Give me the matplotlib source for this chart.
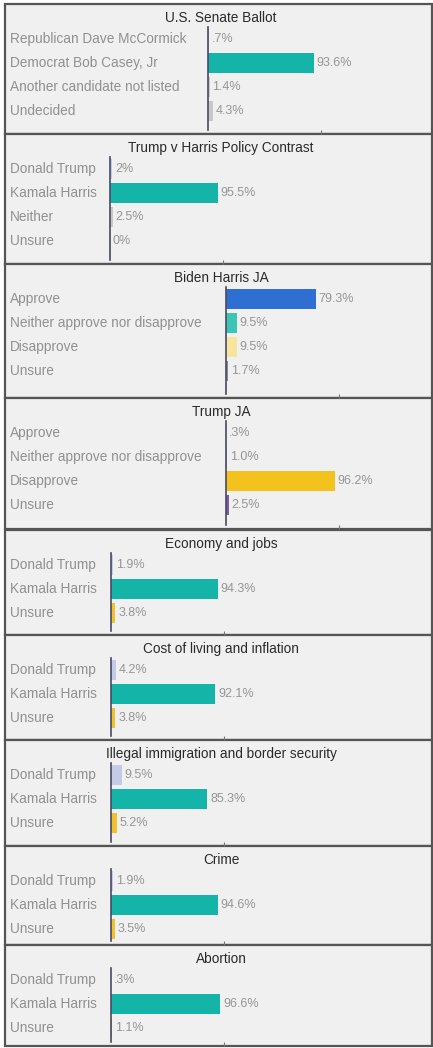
import matplotlib
matplotlib.use("Agg")
import matplotlib.pyplot as plt
from matplotlib.patches import Rectangle
from matplotlib.transforms import blended_transform_factory

plt.rcParams['font.family'] = ['Liberation Sans', 'DejaVu Sans']

# ---- data ----
titles = [
    "U.S. Senate Ballot",
    "Trump v Harris Policy Contrast",
    "Biden Harris JA",
    "Trump JA",
    "Economy and jobs",
    "Cost of living and inflation",
    "Illegal immigration and border security",
    "Crime",
    "Abortion",
]

senate_cats = ["Republican Dave McCormick", "Democrat Bob Casey, Jr",
               "Another candidate not listed", "Undecided"]
senate_vals = [0.7, 93.6, 1.4, 4.3]

contrast_cats = ["Donald Trump", "Kamala Harris", "Neither", "Unsure"]
contrast_vals = [2, 95.5, 2.5, 0]

ja_cats = ["Approve", "Neither approve nor disapprove", "Disapprove", "Unsure"]
biden_ja_vals = [79.3, 9.5, 9.5, 1.7]
trump_ja_vals = [0.3, 1.0, 96.2, 2.5]

issue_cats = ["Donald Trump", "Kamala Harris", "Unsure"]
economy_vals = [1.9, 94.3, 3.8]
cost_vals = [4.2, 92.1, 3.8]
immigration_vals = [9.5, 85.3, 5.2]
crime_vals = [1.9, 94.6, 3.5]
abortion_vals = [0.3, 96.6, 1.1]

# ---- colors ----
teal = "#14b5a8"
cand_colors = ["#c3cbe6", teal, "#f2c12e"]
panel_cats = [senate_cats, contrast_cats, ja_cats, ja_cats] + [issue_cats] * 5
panel_vals = [senate_vals, contrast_vals, biden_ja_vals, trump_ja_vals,
              economy_vals, cost_vals, immigration_vals, crime_vals, abortion_vals]
panel_colors = [
    ["#c3cbe6", teal, "#c8c8c8", "#c8c8c8"],
    ["#c3cbe6", teal, "#c8c8c8", "#c8c8c8"],
    ["#2f6fd1", "#3cc4b4", "#f8e59c", "#8a8a9a"],
    ["#c3cbe6", "#c3cbe6", "#f4c21f", "#7a5aa8"],
] + [cand_colors] * 5

# ---- layout (pixels) ----
W, H = 433, 1048
panel_top = [4, 134, 264, 398, 530, 635, 740, 846, 945]
panel_bot = [134, 264, 398, 529, 635, 740, 846, 945, 1046]
bar_x0 = [208, 110, 226, 226, 111, 111, 111, 111, 111]
px_per_100 = 113
row_px = 24


def pct(v):
    s = str(v)
    if s.startswith("0."):
        s = s[1:]
    return s + "%"


fig = plt.figure(figsize=(W / 100, H / 100), dpi=100)
fig.patch.set_facecolor("white")

for i in range(len(titles)):
    top, bot = panel_top[i], panel_bot[i]
    # panel background and frame
    fig.patches.append(Rectangle((5 / W, 1 - bot / H), (W - 6) / W, (bot - top) / H,
                                 transform=fig.transFigure, facecolor="#f0f0f0",
                                 edgecolor="#555555", linewidth=1.6, zorder=0))
    fig.text(221 / W, 1 - (top + 14) / H, titles[i], ha="center", va="center",
             fontsize=9.8, color="#2a2a2a")

    ax_top = top + 23
    ax_bot = bot - 4
    x0 = bar_x0[i]
    x1 = W - 4
    ax = fig.add_axes([x0 / W, 1 - ax_bot / H, (x1 - x0) / W, (ax_bot - ax_top) / H])
    ax.set_zorder(3)
    ax.patch.set_visible(False)
    n_rows = (ax_bot - ax_top) / row_px
    ax.set_ylim(n_rows - 0.5, -0.5)
    ax.set_xlim(0, 100 * (x1 - x0) / px_per_100)

    cats, vals, cols = panel_cats[i], panel_vals[i], panel_colors[i]
    ypos = list(range(len(cats)))
    ax.barh(ypos, vals, height=0.82, color=cols, zorder=2)
    for y, v in zip(ypos, vals):
        ax.text(v + 2.5, y, pct(v), va="center", ha="left", fontsize=9, color="#959595")

    trans = blended_transform_factory(fig.transFigure, ax.transData)
    for y, c in zip(ypos, cats):
        ax.text(10 / W, y, c, transform=trans, va="center", ha="left",
                fontsize=9.8, color="#909090")

    for s in ["top", "right", "bottom"]:
        ax.spines[s].set_visible(False)
    ax.spines["left"].set_color("#4a4a60")
    ax.spines["left"].set_linewidth(1.2)
    ax.set_yticks([])
    ax.set_xticks([100])
    ax.set_xticklabels([""])
    ax.tick_params(axis="x", length=3, color="#777777", width=0.8)

fig.savefig("out.png", dpi=100)
